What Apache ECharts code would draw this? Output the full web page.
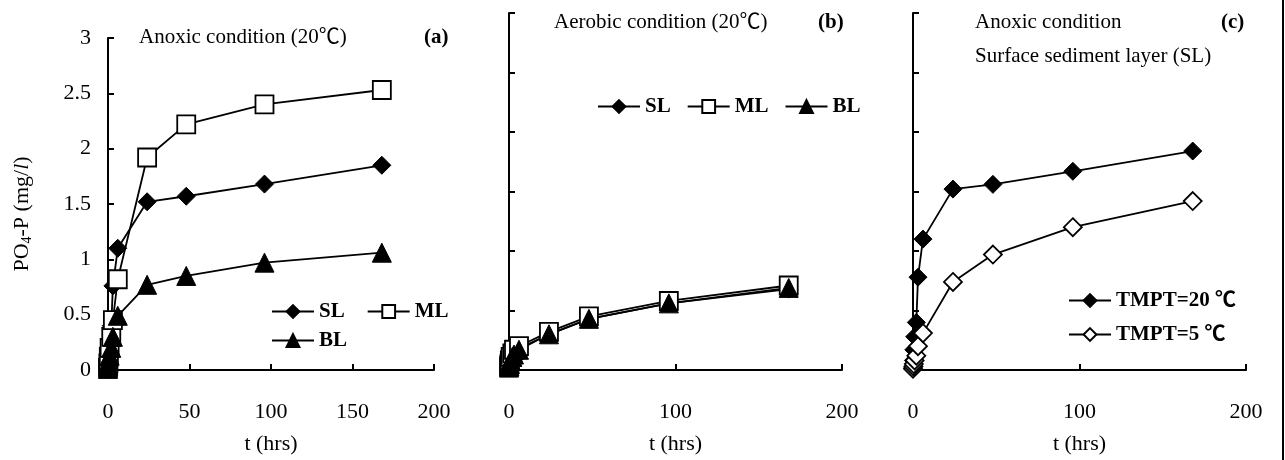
<!DOCTYPE html>
<html>
<head>
<meta charset="utf-8">
<script src="https://cdn.jsdelivr.net/npm/echarts@6/dist/echarts.min.js"></script>
<style>
  html, body { margin: 0; padding: 0; background: #fff; }
  #chart { width: 1285px; height: 460px; }
</style>
</head>
<body>
<div id="chart"></div>
<script>
// sampling times (hrs)
const hours = [0, 0.25, 0.5, 1, 2, 3, 6, 24, 48, 96, 168]

// (a) anoxic 20C
const slAnoxic = [0.02, 0.08, 0.15, 0.25, 0.4, 0.76, 1.1, 1.52, 1.57, 1.68, 1.85]
const mlAnoxic = [0.02, 0.06, 0.12, 0.2, 0.3, 0.45, 0.82, 1.92, 2.22, 2.4, 2.53]
const blAnoxic = [0.01, 0.04, 0.08, 0.13, 0.2, 0.3, 0.49, 0.77, 0.85, 0.97, 1.06]

// (b) aerobic 20C
const slAerobic = [0.02, 0.04, 0.06, 0.09, 0.12, 0.14, 0.18, 0.3, 0.43, 0.56, 0.68]
const mlAerobic = [0.03, 0.05, 0.08, 0.11, 0.14, 0.17, 0.2, 0.32, 0.45, 0.58, 0.71]
const blAerobic = [0.02, 0.03, 0.05, 0.08, 0.11, 0.13, 0.17, 0.3, 0.43, 0.56, 0.69]

// (c) surface layer, two temperatures
const sl20 = [0.02, 0.08, 0.17, 0.28, 0.4, 0.78, 1.1, 1.52, 1.56, 1.67, 1.84]
const sl5 = [0.01, 0.03, 0.05, 0.08, 0.12, 0.2, 0.31, 0.74, 0.97, 1.2, 1.42]

const yTicks = [0, 0.5, 1, 1.5, 2, 2.5, 3]

const font = '"Liberation Serif", "Times New Roman", "Noto Sans CJK SC", serif'
const axisLine = { lineStyle: { color: '#000', width: 2 } }
const axisTick = { inside: true, length: 6, lineStyle: { color: '#000', width: 2 } }

const pairs = vals => hours.map((h, i) => [h, vals[i]])

const mkSeries = (name, idx, vals, symbol, open) => ({
  name: name,
  type: 'line',
  xAxisIndex: idx,
  yAxisIndex: idx,
  data: pairs(vals),
  symbol: symbol,
  symbolSize: symbol === 'triangle' ? 19 : 18,
  showAllSymbol: true,
  clip: false,
  lineStyle: { color: '#000', width: 1.8 },
  itemStyle: open
    ? { color: '#fff', borderColor: '#000', borderWidth: 1.8 }
    : { color: '#000', borderColor: '#000', borderWidth: 1 }
})

const xAxisFor = (idx, interval) => ({
  type: 'value',
  gridIndex: idx,
  min: 0,
  max: 200,
  interval: interval,
  name: 't (hrs)',
  nameLocation: 'middle',
  nameGap: 63,
  nameTextStyle: { fontFamily: font, fontSize: 22, color: '#000' },
  axisLine: axisLine,
  axisTick: axisTick,
  splitLine: { show: false },
  axisLabel: { fontFamily: font, fontSize: 22, color: '#000', margin: 31 }
})

const yAxisFor = (idx, showLabels) => ({
  type: 'value',
  gridIndex: idx,
  min: yTicks[0],
  max: yTicks[yTicks.length - 1],
  interval: 0.5,
  axisLine: axisLine,
  axisTick: axisTick,
  splitLine: { show: false },
  axisLabel: { show: showLabels, fontFamily: font, fontSize: 22, color: '#000', margin: 17 }
})

const legendText = { fontFamily: font, fontSize: 21, fontWeight: 'bold', color: '#000' }
const legendBase = {
  itemWidth: 42,
  itemHeight: 16,
  itemGap: 20,
  textStyle: legendText,
  formatter: name => name.split('|')[1],
  selectedMode: false
}

const titleStyle = { fontFamily: font, fontSize: 21, fontWeight: 'normal', color: '#000' }
const tagStyle = { fontFamily: font, fontSize: 21, fontWeight: 'bold', color: '#000' }

const option = {
  animation: false,
  backgroundColor: '#fff',
  title: [
    { text: 'Anoxic condition (20℃)', left: 139, top: 27, textStyle: titleStyle, padding: 0 },
    { text: '(a)', left: 424, top: 27, textStyle: tagStyle, padding: 0 },
    { text: 'Aerobic condition (20℃)', left: 554, top: 12, textStyle: titleStyle, padding: 0 },
    { text: '(b)', left: 818, top: 12, textStyle: tagStyle, padding: 0 },
    { text: 'Anoxic condition', left: 975, top: 12, textStyle: titleStyle, padding: 0 },
    { text: 'Surface sediment layer (SL)', left: 975, top: 46, textStyle: titleStyle, padding: 0 },
    { text: '(c)', left: 1221, top: 12, textStyle: tagStyle, padding: 0 }
  ],
  grid: [
    { left: 108, top: 38, width: 326, height: 337 },
    { left: 509, top: 13, width: 333, height: 361 },
    { left: 913, top: 13, width: 333, height: 361 }
  ],
  xAxis: [xAxisFor(0, 50), xAxisFor(1, 100), xAxisFor(2, 100)],
  yAxis: [
    Object.assign(yAxisFor(0, true), {
      name: '{t|PO}{s|4}{t|-P (mg/}{i|l}{t|)}',
      nameLocation: 'middle',
      nameGap: 74,
      nameRotate: 90,
      nameTextStyle: {
        padding: [0, 20, 0, 0],
        rich: {
          t: { fontFamily: font, fontSize: 22, color: '#000' },
          s: { fontFamily: font, fontSize: 14, color: '#000', verticalAlign: 'bottom', padding: [9, 0, 0, 0] },
          i: { fontFamily: font, fontSize: 22, fontStyle: 'italic', color: '#000' }
        }
      }
    }),
    yAxisFor(1, false),
    yAxisFor(2, false)
  ],
  legend: [
    Object.assign({}, legendBase, { data: ['a|SL', 'a|ML'], left: 266, top: 296, itemGap: 22 }),
    Object.assign({}, legendBase, { data: ['a|BL'], left: 266, top: 325 }),
    Object.assign({}, legendBase, { data: ['b|SL', 'b|ML', 'b|BL'], left: 592, top: 91, itemGap: 16 }),
    Object.assign({}, legendBase, { data: ['c|TMPT=20 ℃'], left: 1063, top: 285 }),
    Object.assign({}, legendBase, { data: ['c|TMPT=5 ℃'], left: 1063, top: 319 })
  ],
  graphic: [
    { type: 'line', shape: { x1: 1283, y1: 0, x2: 1283, y2: 460 }, style: { stroke: '#000', lineWidth: 2 } }
  ],
  series: [
    mkSeries('a|SL', 0, slAnoxic, 'diamond', false),
    mkSeries('a|ML', 0, mlAnoxic, 'rect', true),
    mkSeries('a|BL', 0, blAnoxic, 'triangle', false),
    mkSeries('b|SL', 1, slAerobic, 'diamond', false),
    mkSeries('b|ML', 1, mlAerobic, 'rect', true),
    mkSeries('b|BL', 1, blAerobic, 'triangle', false),
    mkSeries('c|TMPT=20 ℃', 2, sl20, 'diamond', false),
    mkSeries('c|TMPT=5 ℃', 2, sl5, 'diamond', true)
  ]
}

const chart = echarts.init(document.getElementById('chart'))
chart.setOption(option)
</script>
</body>
</html>
